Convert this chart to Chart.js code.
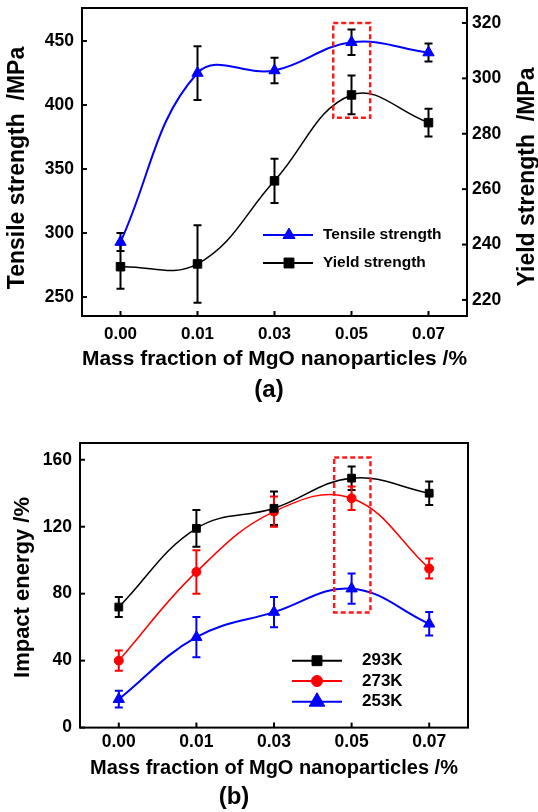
<!DOCTYPE html>
<html>
<head>
<meta charset="utf-8">
<script src="https://cdn.jsdelivr.net/npm/chart.js@4.4.0/dist/chart.umd.min.js"></script>
<style>
  html, body { margin: 0; padding: 0; background: #fff; }
  #wrap { position: relative; width: 538px; height: 812px; }
  #chartA { position: absolute; left: 0; top: 0; }
  #chartB { position: absolute; left: 0; top: 405px; }
</style>
</head>
<body>
<div id="wrap">
  <canvas id="chartA" width="538" height="405"></canvas>
  <canvas id="chartB" width="538" height="407"></canvas>
</div>
<script>
// Data
const massFractions = ['0.00', '0.01', '0.03', '0.05', '0.07'];

// (a) tensile / yield strength, MPa
const tensileStrength = [293, 425, 427, 449, 441];
const tensileErr      = [7, 21, 10, 10, 7];
const yieldStrength   = [232, 233, 263, 294, 284];
const yieldErr        = [8, 14, 8, 7, 5];
const tensileTicks = [250, 300, 350, 400, 450];
const yieldTicks   = [220, 240, 260, 280, 300, 320];

// (b) impact energy
const impact293    = [72, 119, 131, 149, 140];
const impact293Err = [6, 11, 10, 7, 7];
const impact273    = [40, 93, 129, 137, 95];
const impact273Err = [6, 13, 9, 7, 6];
const impact253    = [17, 54, 69, 83, 62];
const impact253Err = [5, 12, 9, 9, 7];
const impactTicks  = [0, 40, 80, 120, 160];

const FONT = "'Liberation Sans', Arial, sans-serif";
Chart.defaults.font.family = FONT;
Chart.defaults.color = '#000';

// Box frame + inward tick marks
const frameAndTicks = {
    id: 'frameAndTicks',
    afterDatasetsDraw(chart) {
        const { ctx, chartArea: a } = chart;
        ctx.save();
        ctx.strokeStyle = '#000';
        ctx.lineWidth = 2;
        ctx.strokeRect(a.left, a.top, a.width, a.height);
        Object.values(chart.scales).forEach(scale => {
            scale.ticks.forEach((t, i) => {
                const p = scale.getPixelForTick(i);
                ctx.beginPath();
                if (scale.position === 'bottom') {
                    ctx.moveTo(p, a.bottom); ctx.lineTo(p, a.bottom - 5);
                } else if (scale.position === 'left') {
                    ctx.moveTo(a.left, p); ctx.lineTo(a.left + 5, p);
                } else {
                    ctx.moveTo(a.right, p); ctx.lineTo(a.right - 5, p);
                }
                ctx.stroke();
            });
        });
        ctx.restore();
    }
};

// Vertical error bars (dataset.errors)
const errorBars = {
    id: 'errorBars',
    beforeDatasetsDraw(chart) {
        const { ctx } = chart;
        chart.data.datasets.forEach((ds, di) => {
            if (!ds.errors) return;
            const meta = chart.getDatasetMeta(di);
            const yScale = chart.scales[meta.yAxisID];
            ctx.save();
            ctx.strokeStyle = ds.errorColor || ds.borderColor;
            ctx.lineWidth = 2;
            meta.data.forEach((pt, i) => {
                const v = ds.data[i], e = ds.errors[i];
                const y1 = yScale.getPixelForValue(v + e);
                const y2 = yScale.getPixelForValue(v - e);
                const x = pt.x, c = 4;
                ctx.beginPath();
                ctx.moveTo(x, y1); ctx.lineTo(x, y2);
                ctx.moveTo(x - c, y1); ctx.lineTo(x + c, y1);
                ctx.moveTo(x - c, y2); ctx.lineTo(x + c, y2);
                ctx.stroke();
            });
            ctx.restore();
        });
    }
};

// Red dashed box around the 0.05 column
const dashedBox = {
    id: 'dashedBox',
    afterDatasetsDraw(chart, args, o) {
        if (!o || o.yFrom === undefined) return;
        const { ctx } = chart;
        const xs = chart.scales.x, ys = chart.scales[o.axis];
        const x1 = xs.getPixelForValue(o.xFrom), x2 = xs.getPixelForValue(o.xTo);
        const y1 = ys.getPixelForValue(o.yTo), y2 = ys.getPixelForValue(o.yFrom);
        ctx.save();
        ctx.strokeStyle = '#ff1a1a';
        ctx.lineWidth = 2.5;
        ctx.setLineDash([5, 3]);
        ctx.strokeRect(x1, y1, x2 - x1, y2 - y1);
        ctx.restore();
    }
};

// Legend inside the plot: line with marker, then label
const innerLegend = {
    id: 'innerLegend',
    afterDraw(chart, args, o) {
        if (!o || !o.rows) return;
        const { ctx } = chart;
        ctx.save();
        chart.data.datasets.forEach((ds, i) => {
            const y = o.rows[i];
            ctx.strokeStyle = ds.borderColor;
            ctx.fillStyle = ds.backgroundColor;
            ctx.lineWidth = 2;
            ctx.beginPath();
            ctx.moveTo(o.x1, y); ctx.lineTo(o.x2, y);
            ctx.stroke();
            ctx.lineWidth = 1;
            Chart.helpers.drawPoint(ctx, {
                pointStyle: ds.pointStyle, radius: o.radii[i], rotation: 0, borderWidth: 1
            }, o.xm, y);
            ctx.fillStyle = '#000';
            ctx.font = 'bold ' + o.size + 'px ' + FONT;
            ctx.textBaseline = 'middle';
            ctx.textAlign = 'left';
            ctx.fillText(ds.label, o.xt, y);
        });
        ctx.restore();
    }
};

// Rotated (bottom-to-top) axis titles
const sideTitles = {
    id: 'sideTitles',
    afterDraw(chart, args, o) {
        if (!o || !o.items) return;
        const { ctx } = chart;
        o.items.forEach(t => {
            ctx.save();
            ctx.translate(t.x, t.y);
            ctx.rotate(-Math.PI / 2);
            ctx.font = 'bold ' + t.size + 'px ' + FONT;
            ctx.fillStyle = '#000';
            ctx.textAlign = 'center';
            ctx.textBaseline = 'middle';
            ctx.fillText(t.text, 0, 0);
            ctx.restore();
        });
    }
};

const noGrid = { display: false, drawTicks: false };

function xScale(fontSize, pad, titleSize, titlePadBottom, height) {
    return {
        type: 'category',
        offset: true,
        grid: noGrid,
        border: { display: false },
        ticks: { font: { size: fontSize, weight: 'bold' }, color: '#000', padding: pad, maxRotation: 0, autoSkip: false },
        title: {
            display: true,
            text: 'Mass fraction of MgO nanoparticles /%',
            font: { size: titleSize, weight: 'bold' },
            color: '#000',
            padding: { top: 0, bottom: titlePadBottom }
        },
        afterFit(s) { s.height = height; }
    };
}

function yScale(position, min, max, tickValues, pad, width) {
    return {
        position: position,
        min: min,
        max: max,
        grid: noGrid,
        border: { display: false },
        ticks: { font: { size: 17.5, weight: 'bold' }, color: '#000', padding: pad },
        afterBuildTicks(s) { s.ticks = tickValues.map(v => ({ value: v })); },
        afterFit(s) {
            s.width = width;
            // labels sit inside the range, no need for extra room above/below
            s.paddingTop = 0;
            s.paddingBottom = 0;
        }
    };
}

// (a) Tensile and yield strength
new Chart(document.getElementById('chartA'), {
    type: 'line',
    data: {
        labels: massFractions,
        datasets: [{
            label: 'Tensile strength',
            data: tensileStrength,
            errors: tensileErr,
            errorColor: '#000',
            yAxisID: 'y',
            borderColor: '#0000ff',
            backgroundColor: '#0000ff',
            borderWidth: 2,
            pointStyle: 'triangle',
            pointRadius: 6.5,
            pointBorderWidth: 1,
            tension: 0.4
        }, {
            label: 'Yield strength',
            data: yieldStrength,
            errors: yieldErr,
            errorColor: '#000',
            yAxisID: 'y1',
            borderColor: '#000',
            backgroundColor: '#000',
            borderWidth: 1.5,
            pointStyle: 'rect',
            pointRadius: 6,
            pointBorderWidth: 1,
            tension: 0.4
        }]
    },
    options: {
        responsive: false,
        animation: false,
        devicePixelRatio: 1,
        layout: { padding: { top: 8, left: 0, right: 0, bottom: 0 } },
        scales: {
            x: xScale(17, 8, 21, 2, 58),
            y: yScale('left', 235.2, 475.8, tensileTicks, 8, 82),
            y1: yScale('right', 214.2, 325.4, yieldTicks, 5, 71)
        },
        plugins: {
            legend: { display: false },
            tooltip: { enabled: false },
            title: {
                display: true, text: '(a)', position: 'bottom',
                font: { size: 24, weight: 'bold' }, color: '#000',
                padding: { top: 1.6, bottom: 0.6 }
            },
            dashedBox: { xFrom: 2.763, xTo: 3.243, yFrom: 390, yTo: 464, axis: 'y' },
            innerLegend: { x1: 263, x2: 313, xm: 289, xt: 323, rows: [235, 263], radii: [7, 7], size: 15.5 },
            sideTitles: { items: [
                { text: 'Tensile strength  /MPa', x: 18, y: 168, size: 23 },
                { text: 'Yield strength  /MPa', x: 528, y: 177, size: 23 }
            ] }
        }
    },
    plugins: [errorBars, frameAndTicks, dashedBox, innerLegend, sideTitles]
});

// (b) Impact energy
new Chart(document.getElementById('chartB'), {
    type: 'line',
    data: {
        labels: massFractions,
        datasets: [{
            label: '293K',
            data: impact293,
            errors: impact293Err,
            borderColor: '#000',
            backgroundColor: '#000',
            borderWidth: 1.5,
            pointStyle: 'rect',
            pointRadius: 5.5,
            pointBorderWidth: 1,
            tension: 0.4
        }, {
            label: '273K',
            data: impact273,
            errors: impact273Err,
            borderColor: '#ff0000',
            backgroundColor: '#ff0000',
            borderWidth: 1.5,
            pointStyle: 'circle',
            pointRadius: 4.5,
            pointBorderWidth: 1,
            tension: 0.4
        }, {
            label: '253K',
            data: impact253,
            errors: impact253Err,
            borderColor: '#0000ff',
            backgroundColor: '#0000ff',
            borderWidth: 2,
            pointStyle: 'triangle',
            pointRadius: 6.5,
            pointBorderWidth: 1,
            tension: 0.4
        }]
    },
    options: {
        responsive: false,
        animation: false,
        devicePixelRatio: 1,
        layout: { padding: { top: 38, left: 0, right: 70, bottom: 0 } },
        scales: {
            x: xScale(17.5, 4, 20, 0, 53),
            y: yScale('left', 0, 170, impactTicks, 8, 80)
        },
        plugins: {
            legend: { display: false },
            tooltip: { enabled: false },
            title: {
                display: true, text: '(b)', position: 'bottom',
                font: { size: 24, weight: 'bold' }, color: '#000',
                padding: { top: 2.6, bottom: 0 }
            },
            dashedBox: { xFrom: 2.776, xTo: 3.243, yFrom: 68.8, yTo: 161.4, axis: 'y' },
            innerLegend: { x1: 292, x2: 342, xm: 317, xt: 362, rows: [255.7, 276, 296.7], radii: [7, 5.5, 9], size: 17 },
            sideTitles: { items: [
                { text: 'Impact energy /%', x: 23, y: 182.5, size: 22 }
            ] }
        }
    },
    plugins: [errorBars, frameAndTicks, dashedBox, innerLegend, sideTitles]
});
</script>
</body>
</html>
